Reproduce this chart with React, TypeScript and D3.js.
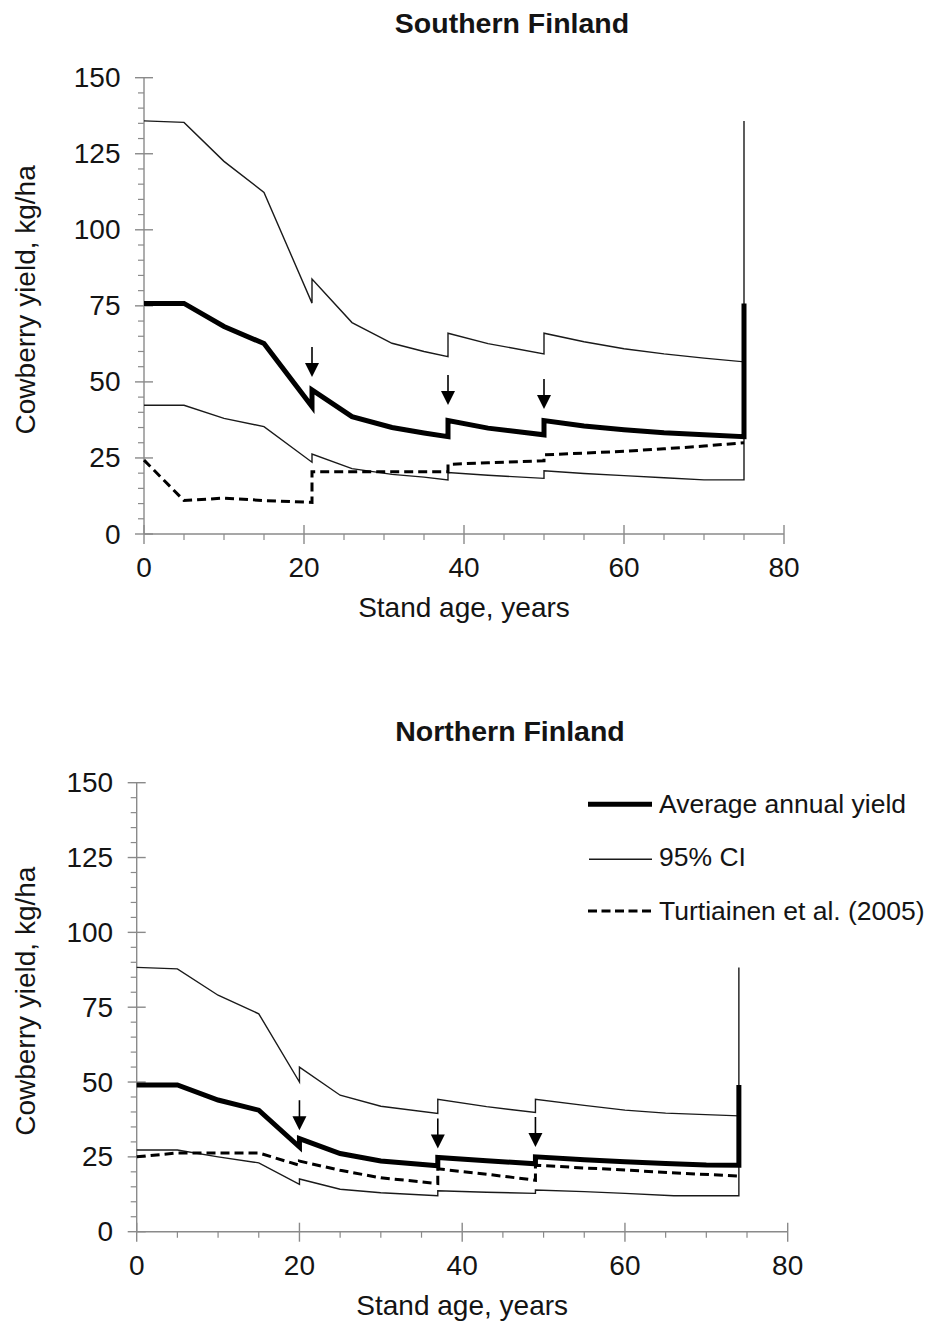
import React from 'react';
import * as d3 from 'd3';

type P = [number, number];

const xMajor = [0, 20, 40, 60, 80];
const yMajor = [0, 25, 50, 75, 100, 125, 150];
const xLabel = 'Stand age, years';
const yLabel = 'Cowberry yield, kg/ha';
const legendLabels = ['Average annual yield', '95% CI', 'Turtiainen et al. (2005)'];

// Southern Finland
const southAvg: P[] = [[0,75.8],[5,75.8],[10,68.2],[15,62.6],[21,41.9],[21,47.4],[26,38.6],[31,35],[35,33.2],[38,32],[38,37.3],[43,34.8],[50,32.6],[50,37.3],[55,35.5],[60,34.3],[65,33.3],[70,32.6],[75,32],[75,75.8]];
const southUpper: P[] = [[0,135.8],[5,135.3],[10,122.5],[15,112.3],[21,75.9],[21,83.8],[26,69.5],[31,62.7],[35,60],[38,58.3],[38,66],[43,62.6],[50,59.2],[50,66],[55,63.2],[60,60.9],[65,59.2],[70,57.8],[75,56.6],[75,135.8]];
const southLower: P[] = [[0,42.3],[5,42.3],[10,38],[15,35.3],[21,23.6],[21,26.3],[26,21.5],[31,19.6],[35,18.7],[38,17.8],[38,20.2],[43,19.3],[50,18.3],[50,20.8],[55,19.9],[60,19.2],[65,18.5],[70,17.8],[75,17.8],[75,42.3]];
const southTurt: P[] = [[0,24.3],[5,11],[10,11.8],[15,11],[21,10.4],[21,20.5],[38,20.5],[38,22.9],[43,23.4],[50,24.1],[50,26],[55,26.6],[60,27.2],[65,28],[70,28.9],[75,30]];
const southArrowX = [21, 38, 50];
const southArrowTip = [51.6, 42.4, 41.1];

// Northern Finland
const northAvg: P[] = [[0,49],[5,49],[10,44],[15,40.6],[20,28.3],[20,31.1],[25,26.1],[30,23.6],[37,22],[37,24.8],[43,23.7],[49,22.7],[49,25],[55,24],[60,23.4],[65,22.8],[70,22.3],[74,22.2],[74,49]];
const northUpper: P[] = [[0,88.3],[5,87.8],[10,79],[15,72.8],[20,50],[20,55],[25,45.6],[30,41.9],[37,39.5],[37,44.2],[43,41.8],[49,39.8],[49,44.2],[55,42.2],[60,40.6],[65,39.6],[74,38.7],[74,88.3]];
const northLower: P[] = [[0,27.3],[5,27.3],[10,25],[15,23],[20,15.8],[20,17.6],[25,14.2],[30,13],[37,12],[37,13.7],[43,13.2],[49,12.8],[49,13.9],[55,13.4],[60,12.8],[66,12],[74,12],[74,27.3]];
const northTurt: P[] = [[0,25],[5,26.3],[15,26.3],[20,22.2],[20,23.6],[25,20.5],[30,18],[37,16.1],[37,21],[43,19.2],[49,17.2],[49,22.2],[55,21.3],[60,20.6],[67,19.5],[74,18.6]];
const northArrowX = [20, 37, 49];
const northArrowTip = [33.9, 27.8, 28.3];

const FONT = '"Liberation Sans", Arial, Helvetica, sans-serif';
const AXIS = '#8a8a8a';
const TEXT = '#141414';

interface Box { left: number; right: number; top: number; bottom: number }

interface PanelProps {
  title: string;
  titleX: number;
  titleY: number;
  box: Box;
  avg: P[];
  upper: P[];
  lower: P[];
  turt: P[];
  arrowX: number[];
  arrowTip: number[];
}

function Panel({ title, titleX, titleY, box, avg, upper, lower, turt, arrowX, arrowTip }: PanelProps) {
  const x = d3.scaleLinear().domain([0, 80]).range([box.left, box.right]);
  const y = d3.scaleLinear().domain([0, 150]).range([box.bottom, box.top]);
  const line = d3.line<P>().x(d => x(d[0])).y(d => y(d[1]));
  const xMinor = d3.range(0, 81, 5).filter(v => v % 20 !== 0);
  const yMinor = d3.range(0, 151, 5).filter(v => v % 25 !== 0);
  const midY = (box.top + box.bottom) / 2 - 6;
  const midX = (box.left + box.right) / 2;
  return (
    <g>
      <text x={titleX} y={titleY} textAnchor="middle" fontFamily={FONT} fontWeight="bold" fontSize={28.5} fill={TEXT}>{title}</text>
      <line x1={box.left} x2={box.left} y1={y(150)} y2={y(0)} stroke={AXIS} strokeWidth={1.4} />
      {yMajor.map(v => (
        <g key={'ym' + v}>
          <line x1={box.left - 9} x2={box.left + 9} y1={y(v)} y2={y(v)} stroke={AXIS} strokeWidth={1.4} />
          <text x={box.left - 23.5} y={y(v) + 9.5} textAnchor="end" fontFamily={FONT} fontSize={28} fill={TEXT}>{v}</text>
        </g>
      ))}
      {yMinor.map(v => (
        <line key={'yn' + v} x1={box.left - 6} x2={box.left} y1={y(v)} y2={y(v)} stroke={AXIS} strokeWidth={1.2} />
      ))}
      <line x1={x(0)} x2={x(80)} y1={box.bottom} y2={box.bottom} stroke={AXIS} strokeWidth={1.4} />
      {xMajor.map(v => (
        <g key={'xm' + v}>
          <line x1={x(v)} x2={x(v)} y1={box.bottom - 9} y2={box.bottom + 10} stroke={AXIS} strokeWidth={1.4} />
          <text x={x(v)} y={box.bottom + 43} textAnchor="middle" fontFamily={FONT} fontSize={28} fill={TEXT}>{v}</text>
        </g>
      ))}
      {xMinor.map(v => (
        <line key={'xn' + v} x1={x(v)} x2={x(v)} y1={box.bottom} y2={box.bottom + 6} stroke={AXIS} strokeWidth={1.2} />
      ))}
      <text x={midX} y={box.bottom + 83} textAnchor="middle" fontFamily={FONT} fontSize={28} fill={TEXT}>{xLabel}</text>
      <text transform={`translate(35,${midY}) rotate(-90)`} textAnchor="middle" fontFamily={FONT} fontSize={28} fill={TEXT}>{yLabel}</text>
      <path d={line(upper) || ''} fill="none" stroke="#1a1a1a" strokeWidth={1.4} />
      <path d={line(lower) || ''} fill="none" stroke="#1a1a1a" strokeWidth={1.4} />
      <path d={line(turt) || ''} fill="none" stroke="#000" strokeWidth={3} strokeDasharray="9,5" />
      <path d={line(avg) || ''} fill="none" stroke="#000" strokeWidth={5} strokeLinejoin="miter" />
      {arrowX.map((ax, i) => {
        const px = x(ax);
        const tip = y(arrowTip[i]);
        return (
          <g key={'ar' + i}>
            <line x1={px} x2={px} y1={tip - 30} y2={tip - 10} stroke="#000" strokeWidth={1.6} />
            <path d={`M${px - 7},${tip - 14}L${px + 7},${tip - 14}L${px},${tip}Z`} fill="#000" />
          </g>
        );
      })}
    </g>
  );
}

export default function App() {
  const legY = [804.3, 859.3, 911];
  const legTextY = [813.3, 865.7, 920];
  return (
    <svg width={928} height={1323} style={{ position: 'absolute', left: 0, top: 0, background: '#fff' }}>
      <rect x={0} y={0} width={928} height={1323} fill="#fff" />
      <Panel title="Southern Finland" titleX={512} titleY={33} box={{ left: 144, right: 784, top: 77.7, bottom: 534 }}
        avg={southAvg} upper={southUpper} lower={southLower} turt={southTurt} arrowX={southArrowX} arrowTip={southArrowTip} />
      <Panel title="Northern Finland" titleX={510} titleY={741} box={{ left: 136.7, right: 787.7, top: 782.7, bottom: 1231.7 }}
        avg={northAvg} upper={northUpper} lower={northLower} turt={northTurt} arrowX={northArrowX} arrowTip={northArrowTip} />
      <line x1={588} x2={652} y1={legY[0]} y2={legY[0]} stroke="#000" strokeWidth={5} />
      <line x1={589} x2={652} y1={legY[1]} y2={legY[1]} stroke="#1a1a1a" strokeWidth={1.4} />
      <line x1={588} x2={652} y1={legY[2]} y2={legY[2]} stroke="#000" strokeWidth={3} strokeDasharray="9,4.5" />
      {legendLabels.map((l, i) => (
        <text key={l} x={659} y={legTextY[i]} fontFamily={FONT} fontSize={26.5} fill={TEXT}>{l}</text>
      ))}
    </svg>
  );
}
